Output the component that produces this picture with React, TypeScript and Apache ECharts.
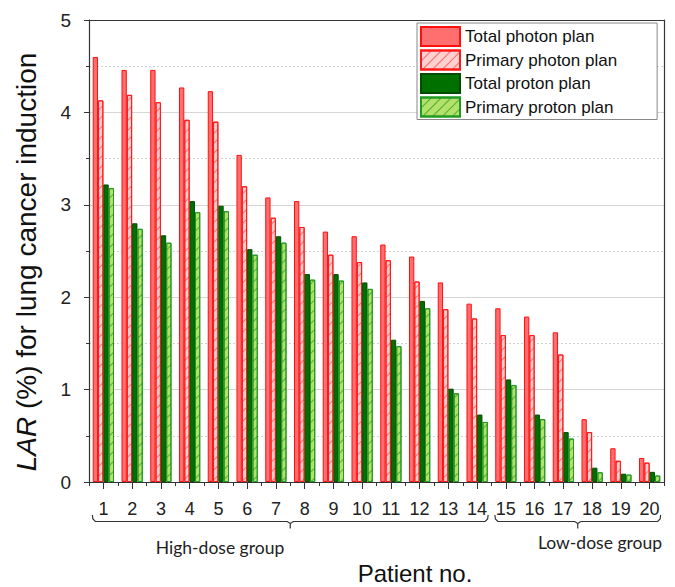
import React, { useEffect, useRef } from "react";
import * as echarts from "echarts";

const patients = ["1","2","3","4","5","6","7","8","9","10","11","12","13","14","15","16","17","18","19","20"];
const totalPhoton = [4.60,4.46,4.46,4.27,4.23,3.54,3.08,3.04,2.71,2.66,2.57,2.44,2.16,1.93,1.88,1.79,1.62,0.68,0.365,0.26];
const primaryPhoton = [4.13,4.19,4.11,3.92,3.90,3.20,2.86,2.76,2.46,2.38,2.40,2.17,1.87,1.77,1.59,1.59,1.38,0.54,0.23,0.21];
const totalProton = [3.22,2.80,2.67,3.04,2.99,2.52,2.66,2.25,2.25,2.16,1.54,1.96,1.01,0.73,1.11,0.73,0.54,0.155,0.09,0.11];
const primaryProton = [3.18,2.74,2.59,2.92,2.93,2.46,2.59,2.19,2.18,2.09,1.47,1.88,0.96,0.65,1.05,0.68,0.47,0.105,0.08,0.07];
const seriesNames = ["Total photon plan","Primary photon plan","Total proton plan","Primary proton plan"];
const groups = [
  { label: "High-dose group", first: "1", last: "14" },
  { label: "Low-dose group", first: "15", last: "20" },
];

const ARIAL = "'Liberation Sans', Arial, sans-serif";

export default function App() {
  const ref = useRef<HTMLDivElement>(null);
  useEffect(() => {
    document.body.style.margin = "0";
    const chart = echarts.init(ref.current!, null, { renderer: "svg" });
    const axisColor = "#333";
    const bar = (name: string, data: number[], fill: string, border: string, decal?: any) => ({
      name,
      type: "bar",
      data,
      barGap: "0%",
      barCategoryGap: "26%",
      itemStyle: { color: fill, borderColor: border, borderWidth: 1, decal },
    });
    chart.setOption({
      animation: false,
      grid: { left: 89, top: 20, right: 11, bottom: 105 },
      legend: {
        orient: "vertical",
        left: 417,
        top: 23,
        icon: "rect",
        itemWidth: 39,
        itemHeight: 19,
        itemGap: 2.5,
        padding: [3, 40, 2, 3],
        borderColor: "#888",
        borderWidth: 1,
        backgroundColor: "#fff",
        textStyle: { fontFamily: ARIAL, fontSize: 17, color: "#111" },
        data: seriesNames,
      },
      xAxis: [
        {
          type: "category",
          data: patients,
          axisLine: { show: true, lineStyle: { color: axisColor, width: 1.2 } },
          axisTick: { show: true, alignWithLabel: true, length: 7, lineStyle: { color: axisColor } },
          axisLabel: { fontFamily: ARIAL, fontSize: 18, color: "#222", margin: 18, interval: 0 },
          splitLine: { show: false },
        },
        {
          type: "category",
          data: patients,
          position: "bottom",
          axisLine: { show: false },
          axisTick: { show: true, length: 4, lineStyle: { color: axisColor } },
          axisLabel: { show: false },
          splitLine: { show: false },
        },
        {
          type: "category",
          data: patients,
          position: "top",
          axisLine: { show: true, lineStyle: { color: axisColor, width: 1.2 } },
          axisTick: { show: false },
          axisLabel: { show: false },
        },
      ],
      yAxis: [
        {
          type: "value",
          min: 0,
          max: 5,
          interval: 1,
          axisLine: { show: true, lineStyle: { color: axisColor, width: 1.2 } },
          axisTick: { show: true, length: 5, lineStyle: { color: axisColor } },
          minorTick: { show: true, splitNumber: 2, length: 3, lineStyle: { color: axisColor } },
          axisLabel: { fontFamily: ARIAL, fontSize: 19, color: "#222", margin: 18 },
          splitLine: { show: true, lineStyle: { color: "#d6d6d6", width: 1 } },
          minorSplitLine: { show: true, lineStyle: { color: "#d0d0d0", type: [2, 2], width: 1 } },
        },
        {
          type: "value",
          min: 0,
          max: 5,
          interval: 1,
          position: "right",
          axisLine: { show: true, lineStyle: { color: axisColor, width: 1.2 } },
          axisTick: { show: false },
          axisLabel: { show: false },
          splitLine: { show: false },
        },
      ],
      series: [
        bar(seriesNames[0], totalPhoton, "#ff6f6f", "#ff1010"),
        bar(seriesNames[1], primaryPhoton, "#ffd0d0", "#ff1a1a", {
          symbol: "rect", symbolSize: 1, color: "rgba(255,40,40,0.6)",
          dashArrayX: [1, 0], dashArrayY: [1, 6], rotation: -Math.PI / 4,
        }),
        bar(seriesNames[2], totalProton, "#007000", "#004d00"),
        bar(seriesNames[3], primaryProton, "#b4e16a", "#229922", {
          symbol: "rect", symbolSize: 1, color: "rgba(20,140,20,0.6)",
          dashArrayX: [1, 0], dashArrayY: [1, 6], rotation: -Math.PI / 4,
        }),
      ],
    });

    const yTop = 515, yLine = 521.5, yTip = 528.5;
    const elements: any[] = [];
    groups.forEach((g, gi) => {
      const x0 = (chart.convertToPixel({ xAxisIndex: 0 }, g.first) as number) - 11;
      const x1 = (chart.convertToPixel({ xAxisIndex: 0 }, g.last) as number) + 11;
      const xm = (x0 + x1) / 2;
      const st = { stroke: "#333", lineWidth: 1.2, fill: null };
      elements.push({
        type: "polyline", silent: true,
        shape: { points: [[x0, yTop], [x0 + 0.5, yLine - 2.5], [x0 + 3, yLine], [xm - 3, yLine], [xm, yLine + 2], [xm, yTip]] },
        style: st,
      });
      elements.push({
        type: "polyline", silent: true,
        shape: { points: [[xm, yLine + 2], [xm + 3, yLine], [x1 - 3, yLine], [x1 - 0.5, yLine - 2.5], [x1, yTop]] },
        style: st,
      });
      if (gi === 0) {
        elements.push({
          type: "text", x: 220, y: 547, silent: true,
          style: { text: g.label, fontFamily: "Lato, 'Open Sans', sans-serif", fontSize: 17.5, fill: "#222", align: "center", verticalAlign: "middle" },
        });
      } else {
        elements.push({
          type: "text", x: 662, y: 542, silent: true,
          style: { text: g.label, fontFamily: "Lato, 'Open Sans', sans-serif", fontSize: 17.5, fill: "#222", align: "right", verticalAlign: "middle" },
        });
      }
    });
    elements.push({
      type: "text", x: 415, y: 573, silent: true,
      style: { text: "Patient no.", fontFamily: ARIAL, fontSize: 24, fill: "#111", align: "center", verticalAlign: "middle" },
    });
    elements.push({
      type: "text", x: 26, y: 262, rotation: Math.PI / 2, silent: true,
      style: {
        text: "{i|LAR}{n| (%) for lung cancer induction}",
        fontFamily: ARIAL, fontSize: 28, fill: "#111", align: "center", verticalAlign: "middle",
        rich: {
          i: { fontFamily: ARIAL, fontSize: 28, fontStyle: "italic", fill: "#111" },
          n: { fontFamily: ARIAL, fontSize: 28, fill: "#111" },
        },
      },
    });
    chart.setOption({ graphic: { elements } });

    return () => chart.dispose();
  }, []);
  return <div ref={ref} style={{ width: 675, height: 587 }} />;
}
